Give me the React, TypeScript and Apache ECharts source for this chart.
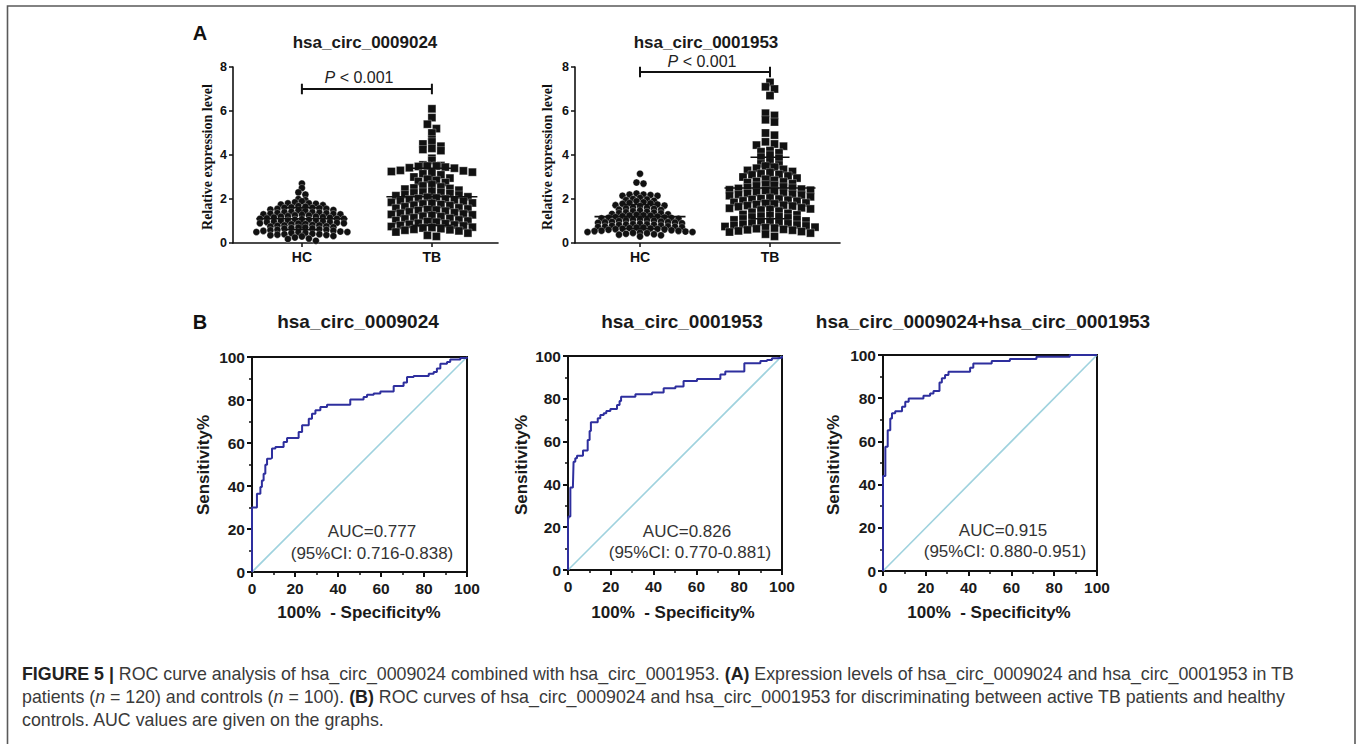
import React, { useEffect, useRef } from "react";
import * as echarts from "echarts";

// ---------------- DATA ----------------
const GROUPS = ["HC", "TB"];
const PANEL_A_TITLES = ["hsa_circ_0009024", "hsa_circ_0001953"];
const PANEL_B_TITLES = ["hsa_circ_0009024", "hsa_circ_0001953", "hsa_circ_0009024+hsa_circ_0001953"];
const AUC_TEXT = ["AUC=0.777", "AUC=0.826", "AUC=0.915"];
const CI_TEXT = ["(95%CI: 0.716-0.838)", "(95%CI: 0.770-0.881)", "(95%CI: 0.880-0.951)"];
const Y_TICKS_A = [0, 2, 4, 6, 8];
const P_TEXT = "P";
const P_REST = " < 0.001";

// hsa_circ_0009024, healthy controls (n = 100)
const hc1 = [2.70, 2.50, 2.30, 2.20, 2.00, 1.95, 1.90,
  1.85, 1.80, 1.80, 1.78, 1.75, 1.72,
  1.68, 1.65, 1.62, 1.60, 1.60, 1.58, 1.55, 1.55, 1.52, 1.50,
  1.48, 1.45, 1.42, 1.40, 1.40, 1.38, 1.36, 1.35, 1.33, 1.32, 1.30, 1.30,
  1.28, 1.26, 1.25, 1.22, 1.20, 1.20, 1.18, 1.16, 1.15, 1.12, 1.10, 1.10, 1.08,
  1.06, 1.05, 1.02, 1.00, 1.00, 0.98, 0.96, 0.95, 0.92, 0.90, 0.90, 0.88, 0.86,
  0.85, 0.82, 0.80, 0.80, 0.78, 0.76, 0.75, 0.72, 0.70, 0.70, 0.68, 0.66, 0.65,
  0.62, 0.60, 0.60, 0.58, 0.56, 0.55, 0.52, 0.50, 0.50, 0.48, 0.46, 0.45,
  0.42, 0.40, 0.40, 0.38, 0.36, 0.35, 0.32, 0.30,
  0.25, 0.20, 0.18, 0.10, 1.10, 0.95];
// hsa_circ_0009024, TB patients (n = 120)
const tb1 = [6.10, 5.70, 5.40, 5.20, 5.00, 4.70, 4.60, 4.50, 4.40, 4.30, 4.25, 4.20, 3.85, 3.75,
  3.55, 3.52, 3.50, 3.50, 3.48, 3.45, 3.42, 3.40,
  3.30, 3.28, 3.25, 3.22, 3.20, 3.15, 3.10,
  3.00, 2.95, 2.90, 2.85, 2.80, 2.75,
  2.65, 2.60, 2.55, 2.50, 2.48, 2.45, 2.40,
  2.35, 2.32, 2.30, 2.28, 2.25, 2.20, 2.18, 2.15,
  2.10, 2.08, 2.05, 2.02, 2.00, 1.98, 1.95, 1.92, 1.90,
  1.85, 1.82, 1.80, 1.78, 1.75, 1.72, 1.70, 1.65,
  1.60, 1.58, 1.55, 1.52, 1.50, 1.48, 1.45, 1.42,
  1.38, 1.35, 1.32, 1.30, 1.28, 1.25, 1.22, 1.20,
  1.15, 1.12, 1.10, 1.05, 1.02, 1.00, 0.98, 0.95,
  0.90, 0.88, 0.85, 0.82, 0.80, 0.78, 0.75, 0.72,
  0.70, 0.68, 0.65, 0.62, 0.60, 0.58, 0.55,
  0.50, 0.45, 0.35, 0.30];
// hsa_circ_0001953, healthy controls (n = 100)
const hc2 = [3.15, 2.75, 2.70,
  2.25, 2.20, 2.20, 2.18, 2.15, 2.15,
  2.05, 2.00, 1.98, 1.95, 1.92, 1.90,
  1.85, 1.82, 1.80, 1.78, 1.75, 1.72, 1.70, 1.68,
  1.62, 1.60, 1.58, 1.55, 1.52, 1.50, 1.48, 1.45, 1.42, 1.40,
  1.38, 1.36, 1.35, 1.32, 1.30, 1.28, 1.26, 1.25, 1.24, 1.22, 1.20, 1.18, 1.16, 1.15, 1.14, 1.12, 1.10,
  1.08, 1.06, 1.05, 1.04, 1.02, 1.00, 0.98, 0.96, 0.95, 0.94, 0.93, 0.92, 0.90, 0.88, 0.86, 0.85,
  0.84, 0.83, 0.82, 0.80, 0.78, 0.76, 0.75, 0.74, 0.73, 0.72, 0.70, 0.70, 0.68, 0.66, 0.65, 0.64, 0.63, 0.62,
  0.60, 0.58, 0.56, 0.55, 0.54, 0.52, 0.50, 0.50, 0.48, 0.46, 0.45, 0.42,
  0.40, 0.38, 0.35, 0.30];
// hsa_circ_0001953, TB patients (n = 120)
const tb2 = [7.30, 7.10, 7.00, 6.70, 5.90, 5.80, 5.60, 5.50, 5.00, 4.90, 4.60, 4.50, 4.45, 4.40, 4.20, 4.15, 4.10, 4.00, 3.90, 3.85,
  3.70, 3.60, 3.55, 3.50, 3.45, 3.40, 3.35,
  3.30, 3.25, 3.20, 3.15, 3.12, 3.10, 3.05, 3.00,
  2.95, 2.90, 2.85, 2.80, 2.78, 2.75, 2.70,
  2.65, 2.62, 2.60, 2.55, 2.52, 2.50, 2.48, 2.45, 2.42, 2.40, 2.38,
  2.35, 2.30, 2.28, 2.25, 2.22, 2.20, 2.18, 2.15,
  2.10, 2.05, 2.02, 2.00, 1.98, 1.95, 1.92, 1.90,
  1.85, 1.82, 1.80, 1.78, 1.75, 1.72, 1.70, 1.68,
  1.65, 1.60, 1.58, 1.55, 1.52, 1.50, 1.45,
  1.40, 1.35, 1.30, 1.28, 1.25, 1.22, 1.20, 1.18,
  1.15, 1.10, 1.08, 1.05, 1.00, 0.98, 0.95, 0.92,
  0.90, 0.88, 0.85, 0.82, 0.80, 0.78, 0.75,
  0.72, 0.70, 0.68, 0.65, 0.62, 0.60, 0.58, 0.55, 0.52, 0.50,
  0.45, 0.40, 0.30];

// mean and SD: [HC, TB]
const means1 = [1.1, 2.1];
const sds1 = [0.5, 1.3];
const means2 = [1.2, 2.5];
const sds2 = [0.55, 1.4];
// height of the P-value bracket
const bracketY = [7.0, 7.77];

// ROC curves: [100% - specificity, sensitivity]
const roc1 = [[0, 0], [0, 27], [0, 30], [2.3, 36.4], [3.9, 39.5], [4.6, 42.6], [5.4, 45.7], [6.2, 49.9], [7, 52.7], [8.5, 53], [9.3, 57.4], [10.9, 58.1], [14.7, 60.5], [16.3, 62.3], [21.7, 65.1], [23.3, 68.2], [26.4, 71.3], [27.9, 73.6], [29.5, 75.2], [31.8, 76.7], [34.9, 77.8], [45.7, 80.2], [51.9, 81.4], [53.5, 82.5], [56.6, 83], [59.7, 84], [65.9, 86.5], [70.5, 88.1], [72.1, 90.7], [75.2, 91.2], [82.2, 92.2], [84.5, 93], [86, 94.6], [87.6, 96.9], [90.7, 97.7], [92.2, 98.8], [96.9, 99.5], [100, 100]];
const roc2 = [[0, 0], [0, 23.4], [0.3, 25], [1.1, 38.5], [2.3, 39], [2.6, 50.6], [3.4, 52.2], [4.2, 53.4], [7, 55.8], [9.2, 60.7], [10.1, 65], [10.7, 69], [13.9, 70.9], [15.1, 72.4], [16.7, 73.2], [17.9, 74.3], [19.8, 75.2], [22.9, 77.1], [24.1, 79], [24.8, 81], [31.5, 82.1], [39.3, 83], [44.7, 84.9], [50.2, 85.7], [54, 88.3], [60.3, 89.3], [71.2, 91.4], [73.5, 92.7], [82.4, 96.6], [89.9, 97.7], [93, 98.1], [95.3, 98.9], [97.7, 99.2], [100, 100]];
const roc3 = [[0, 0], [0, 44], [1.1, 57.5], [2.2, 65.2], [3.4, 70.6], [4.2, 73], [5.7, 74], [8.9, 76], [10.4, 78.4], [12, 79.9], [18.9, 81.1], [22, 82.2], [23.6, 83.3], [26.4, 87.3], [27.5, 89.2], [29, 90.7], [30.6, 92.3], [40.7, 94.1], [42.2, 96.1], [50.8, 97.2], [59.3, 98.1], [71.7, 99.2], [87.3, 100], [100, 100]];
const diagonal = [[0, 0], [100, 100]];

const CAPTION = [
  "{b|FIGURE 5 |} ROC curve analysis of hsa_circ_0009024 combined with hsa_circ_0001953. {b|(A)} Expression levels of hsa_circ_0009024 and hsa_circ_0001953 in TB",
  "patients ({i|n} = 120) and controls ({i|n} = 100). {b|(B)} ROC curves of hsa_circ_0009024 and hsa_circ_0001953 for discriminating between active TB patients and healthy",
  "controls. AUC values are given on the graphs.",
];

// ---------------- LAYOUT / STYLE ----------------
const FONT = "'Liberation Sans', Arial, Helvetica, sans-serif";
const SERIF = "'Liberation Serif', 'Times New Roman', serif";
const INK = "#111";

const A_GRIDS = [
  { left: 233, top: 67, width: 265, height: 176, xmin: 0.47 },
  { left: 575, top: 67, width: 265, height: 176, xmin: 0.5 },
];
const PX_PER_X = 130;
const B_GRIDS = [
  { left: 252, top: 357, width: 215, height: 215 },
  { left: 568, top: 356, width: 214, height: 214 },
  { left: 883, top: 355, width: 214, height: 216 },
];

// column-scatter layout: values grouped into rows, spread centre-outwards
function rowSwarm(vals: number[], center: number, binH: number, spacingPx: number): number[][] {
  const bins = new Map<number, number[]>();
  for (const v of vals) {
    const key = Math.round(v / binH);
    if (!bins.has(key)) bins.set(key, []);
    bins.get(key)!.push(v);
  }
  const out: number[][] = [];
  bins.forEach((list) => {
    const sorted = [...list].sort((a, b) => b - a);
    const n = sorted.length;
    const slots: number[] = [];
    for (let k = 0; k < n; k++) slots.push((k - (n - 1) / 2) * spacingPx);
    slots.sort((a, b) => Math.abs(a) - Math.abs(b) || a - b);
    sorted.forEach((v, i) => out.push([center + slots[i] / PX_PER_X, v]));
  });
  return out;
}

function seg(g: number, pts: number[][], width = 1.5, color = INK, z = 5): any {
  return {
    type: "line", xAxisIndex: g, yAxisIndex: g, data: pts, symbol: "none", showSymbol: false,
    lineStyle: { color, width, cap: "butt" }, clip: false, silent: true, z, animation: false,
  };
}

function meanSd(g: number, c: number, m: number, sd: number): any[] {
  return [
    seg(g, [[c - 0.35, m], [c + 0.35, m]], 1.6, INK, 6),
    seg(g, [[c, m - sd], [c, m + sd]], 1.2, INK, 6),
    seg(g, [[c - 0.15, m + sd], [c + 0.15, m + sd]], 1.6, INK, 6),
    seg(g, [[c - 0.15, m - sd], [c + 0.15, m - sd]], 1.6, INK, 6),
  ];
}

function text(x: number, y: number, t: string, o: any = {}, rot = 0): any {
  return {
    type: "text", x, y, rotation: rot, silent: true, z: 100,
    style: {
      text: t, fontFamily: FONT, fontSize: 14, fill: INK, align: "center", verticalAlign: "middle",
      ...o,
    },
  };
}

function buildOption(): any {
  const grids: any[] = [];
  const xAxes: any[] = [];
  const yAxes: any[] = [];
  const series: any[] = [];
  const graphics: any[] = [];

  // ---- Panel A ----
  const datasets = [[hc1, tb1], [hc2, tb2]];
  const meanSets = [means1, means2];
  const sdSets = [sds1, sds2];
  A_GRIDS.forEach((gA, i) => {
    grids.push({ left: gA.left, top: gA.top, width: gA.width, height: gA.height, containLabel: false, outerBoundsMode: "none" });
    xAxes.push({
      gridIndex: i, type: "value", min: gA.xmin, max: gA.xmin + gA.width / PX_PER_X,
      axisLine: { show: true, onZero: false, lineStyle: { color: INK, width: 1.6 } },
      axisTick: { show: true, length: 4, customValues: [1, 2], lineStyle: { color: INK, width: 1.5 } },
      axisLabel: {
        show: true, customValues: [1, 2], formatter: (v: number) => GROUPS[Math.round(v) - 1] || "",
        fontFamily: FONT, fontSize: 14, fontWeight: "bold", color: INK, margin: 7,
      },
      splitLine: { show: false },
    });
    yAxes.push({
      gridIndex: i, type: "value", min: Y_TICKS_A[0], max: Y_TICKS_A[Y_TICKS_A.length - 1], interval: 2,
      axisLine: { show: true, onZero: false, lineStyle: { color: INK, width: 1.6 } },
      axisTick: { show: true, length: 4, lineStyle: { color: INK, width: 1.5 } },
      axisLabel: { fontFamily: FONT, fontSize: 12.5, fontWeight: "bold", color: INK, margin: 6 },
      splitLine: { show: false },
    });
    const [hc, tb] = datasets[i];
    series.push({
      type: "scatter", xAxisIndex: i, yAxisIndex: i, data: rowSwarm(hc, 1, 0.2, 7), symbol: "circle", symbolSize: 7,
      itemStyle: { color: INK, opacity: 1, borderColor: "#fff", borderWidth: 0.3 }, silent: true, clip: false, z: 3,
    });
    series.push({
      type: "scatter", xAxisIndex: i, yAxisIndex: i, data: rowSwarm(tb, 2, 0.28, 9), symbol: "rect", symbolSize: 8,
      itemStyle: { color: INK, opacity: 1, borderColor: "#fff", borderWidth: 0.3 }, silent: true, clip: false, z: 3,
    });
    series.push(...meanSd(i, 1, meanSets[i][0], sdSets[i][0]));
    series.push(...meanSd(i, 2, meanSets[i][1], sdSets[i][1]));
    const b = bracketY[i];
    series.push(seg(i, [[1, b], [2, b]], 2));
    series.push(seg(i, [[1, b - 0.24], [1, b + 0.24]], 2));
    series.push(seg(i, [[2, b - 0.24], [2, b + 0.24]], 2));
  });

  // ---- Panel B ----
  const rocs = [roc1, roc2, roc3];
  B_GRIDS.forEach((gB, j) => {
    const g = j + 2;
    grids.push({
      left: gB.left, top: gB.top, width: gB.width, height: gB.height, show: true,
      borderColor: INK, borderWidth: 2, backgroundColor: "transparent", containLabel: false, outerBoundsMode: "none",
    });
    const common = {
      gridIndex: g, type: "value", min: 0, max: 100, interval: 20,
      axisLine: { show: true, onZero: false, lineStyle: { color: INK, width: 2 } },
      axisTick: { show: true, length: 5, lineStyle: { color: INK, width: 2 } },
      minorTick: { show: true, splitNumber: 2, length: 3, lineStyle: { color: INK, width: 1.5 } },
      splitLine: { show: false }, minorSplitLine: { show: false },
    };
    xAxes.push({ ...common, axisLabel: { fontFamily: FONT, fontSize: 15.5, fontWeight: "bold", color: "#1a1a1a", margin: 8 } });
    yAxes.push({ ...common, axisLabel: { fontFamily: FONT, fontSize: 15.5, fontWeight: "bold", color: "#1a1a1a", margin: 7 } });
    series.push({
      type: "line", xAxisIndex: g, yAxisIndex: g, data: diagonal, symbol: "none", showSymbol: false,
      lineStyle: { color: "#9fd2de", width: 1.6 }, silent: true, z: 2,
    });
    series.push({
      type: "line", xAxisIndex: g, yAxisIndex: g, data: rocs[j], step: "end", symbol: "none", showSymbol: false,
      lineStyle: { color: "#2e2f9e", width: 2 }, silent: true, z: 3, clip: false,
    });
  });

  // ---- texts ----
  graphics.push({
    type: "rect", shape: { x: 7.5, y: 6, width: 1347.5, height: 800 }, silent: true, z: 0,
    style: { fill: "none", stroke: "#5a5a5a", lineWidth: 1.6 },
  });
  graphics.push(text(200, 33, "A", { fontSize: 20, fontWeight: "bold" }));
  graphics.push(text(365, 42, PANEL_A_TITLES[0], { fontSize: 17, fontWeight: "bold", fill: "#1a1a1a" }));
  graphics.push(text(706, 42, PANEL_A_TITLES[1], { fontSize: 17, fontWeight: "bold", fill: "#1a1a1a" }));
  const pRich = {
    i: { fontStyle: "italic", fontFamily: FONT, fontSize: 16, fill: "#222" },
    n: { fontFamily: FONT, fontSize: 16, fill: "#222" },
  };
  graphics.push(text(359, 77, `{i|${P_TEXT}}{n|${P_REST}}`, { fontSize: 16, rich: pRich }));
  graphics.push(text(702, 61, `{i|${P_TEXT}}{n|${P_REST}}`, { fontSize: 16, rich: pRich }));
  graphics.push(text(207, 157, "Relative expression level", { fontFamily: SERIF, fontSize: 14, fontWeight: "bold" }, Math.PI / 2));
  graphics.push(text(547, 157, "Relative expression level", { fontFamily: SERIF, fontSize: 14, fontWeight: "bold" }, Math.PI / 2));

  graphics.push(text(200, 322, "B", { fontSize: 20, fontWeight: "bold" }));
  const bTitleX = [358, 682, 983];
  const yTitleX = [203, 521, 833];
  const xTitleX = [359, 673, 989];
  const aucX = [372, 687, 1003];
  const aucY = [531, 531, 530];
  const ciX = [372, 690, 1005];
  const ciY = [553, 552, 551];
  PANEL_B_TITLES.forEach((t, j) => {
    graphics.push(text(bTitleX[j], 321, t, { fontSize: 19, fontWeight: "bold", fill: "#1a1a1a" }));
    graphics.push(text(yTitleX[j], 465, "Sensitivity%", { fontSize: 17, fontWeight: "bold", fill: "#1a1a1a" }, Math.PI / 2));
    graphics.push(text(xTitleX[j], 612, "100%  - Specificity%", { fontSize: 17, fontWeight: "bold", fill: "#1a1a1a" }));
    graphics.push(text(aucX[j], aucY[j], AUC_TEXT[j], { fontSize: 17, fill: "#333" }));
    graphics.push(text(ciX[j], ciY[j], CI_TEXT[j], { fontSize: 17, fill: "#333" }));
  });

  const CAP_FS = 17.8;
  const capRich = {
    b: { fontWeight: "bold", fontFamily: FONT, fontSize: CAP_FS, fill: "#222" },
    i: { fontStyle: "italic", fontFamily: FONT, fontSize: CAP_FS, fill: "#3a3a3a" },
  };
  const capY = [674, 697, 720];
  CAPTION.forEach((line, k) => {
    graphics.push(text(22, capY[k], line, { fontSize: CAP_FS, fill: "#3a3a3a", align: "left", rich: capRich }));
  });

  return {
    animation: false,
    backgroundColor: "#fff",
    grid: grids,
    xAxis: xAxes,
    yAxis: yAxes,
    series,
    graphic: { elements: graphics },
  };
}

export default function App() {
  const ref = useRef<HTMLDivElement>(null);
  useEffect(() => {
    if (!ref.current) return;
    const chart = echarts.init(ref.current, null, { renderer: "svg" });
    chart.setOption(buildOption());
    return () => chart.dispose();
  }, []);
  return (
    <div
      ref={ref}
      style={{ position: "fixed", left: 0, top: 0, width: 1357, height: 744, background: "#fff" }}
    />
  );
}
